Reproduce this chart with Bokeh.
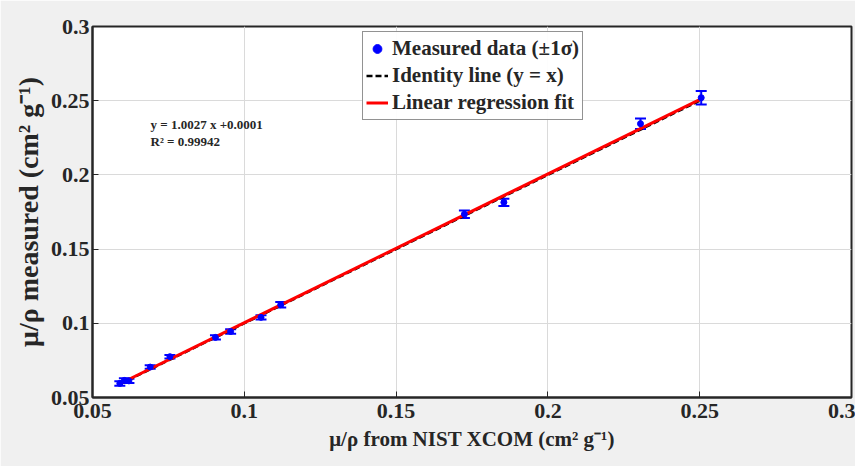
from bokeh.plotting import figure
from bokeh.models import ColumnDataSource, Whisker, TeeHead, Label, Range1d, Legend, LegendItem, FixedTicker
from bokeh.embed import file_html
from bokeh.resources import INLINE

nist = [0.059, 0.0605, 0.062, 0.069, 0.0755, 0.0905, 0.0955, 0.1055, 0.112, 0.1725, 0.1855, 0.2305, 0.2505]
measured = [0.0595, 0.0615, 0.0612, 0.0705, 0.0775, 0.0905, 0.0945, 0.104, 0.1125, 0.1735, 0.1815, 0.2345, 0.252]
sigma = [0.0015, 0.0015, 0.0015, 0.0012, 0.0012, 0.0015, 0.0015, 0.0015, 0.0018, 0.0025, 0.0025, 0.0035, 0.0045]
slope = 1.0027
intercept = 0.0001
r2 = 0.99942
ticks = [0.05, 0.1, 0.15, 0.2, 0.25, 0.3]

FONT = "Liberation Serif"

p = figure(width=855, height=466, output_backend="svg", toolbar_location=None,
           x_range=Range1d(0.05, 0.3), y_range=Range1d(0.05, 0.3),
           min_border_left=92, min_border_right=4, min_border_top=26, min_border_bottom=69)
p.border_fill_color = "#f0f0f0"
p.background_fill_color = "white"
p.outline_line_color = "#262626"
p.outline_line_width = 2

for ax in (p.xaxis[0], p.yaxis[0]):
    ax.ticker = FixedTicker(ticks=ticks)
    ax.major_label_text_font = FONT
    ax.major_label_text_font_style = "bold"
    ax.major_label_text_font_size = "22px"
    ax.major_label_text_color = "#262626"
    ax.axis_label_text_font = FONT
    ax.axis_label_text_font_style = "bold"
    ax.axis_label_text_color = "#262626"
    ax.axis_line_color = "#262626"
    ax.axis_line_width = 2
    ax.major_tick_in = 6
    ax.major_tick_out = 0
    ax.major_tick_line_color = "#262626"
    ax.minor_tick_line_color = None

p.xaxis.axis_label = "μ/ρ from NIST XCOM (cm² g⁻¹)"
p.yaxis.axis_label = "μ/ρ measured (cm² g⁻¹)"
p.xaxis.axis_label_text_font_size = "21px"
p.yaxis.axis_label_text_font_size = "28px"
p.xaxis.major_label_standoff = 6
p.yaxis.major_label_standoff = 3
p.xaxis.axis_label_standoff = 6
p.yaxis.axis_label_standoff = 4

p.xgrid.grid_line_color = "#dadada"
p.ygrid.grid_line_color = "#dadada"
p.xgrid.ticker = FixedTicker(ticks=ticks)
p.ygrid.ticker = FixedTicker(ticks=ticks)

lo = [m - s for m, s in zip(measured, sigma)]
hi = [m + s for m, s in zip(measured, sigma)]
src = ColumnDataSource(dict(x=nist, y=measured, lo=lo, hi=hi))

xmin, xmax = min(nist), max(nist)
ident = p.line([xmin, xmax], [xmin, xmax], line_color="black", line_width=2.5, line_dash="6 3")
fit = p.line([xmin, xmax], [slope * xmin + intercept, slope * xmax + intercept],
             line_color="#ff0000", line_width=3)

w = Whisker(source=src, base="x", lower="lo", upper="hi", line_color="blue", line_width=2,
            upper_head=TeeHead(size=11, line_color="blue", line_width=2),
            lower_head=TeeHead(size=11, line_color="blue", line_width=2))
p.add_layout(w)
pts = p.scatter("x", "y", source=src, size=6, color="blue")

legend = Legend(items=[LegendItem(label="Measured data (±1σ)", renderers=[pts]),
                       LegendItem(label="Identity line (y = x)", renderers=[ident]),
                       LegendItem(label="Linear regression fit", renderers=[fit])],
                location=(270, 277))
legend.label_text_font = FONT
legend.label_text_font_style = "bold"
legend.label_text_font_size = "21px"
legend.label_text_color = "#262626"
legend.border_line_color = "#262626"
legend.border_line_width = 1.5
legend.glyph_width = 22
legend.label_standoff = 4
legend.spacing = 0
legend.padding = 3
legend.margin = 0
legend.label_height = 27
legend.glyph_height = 27
p.add_layout(legend)

p.add_layout(Label(x=0.0691, y=0.2338, text=f"y = {slope:.4f} x +{intercept:.4f}",
                   text_font=FONT, text_font_style="bold", text_font_size="13px",
                   text_baseline="middle", text_color="#262626"))
p.add_layout(Label(x=0.0691, y=0.2223, text=f"R² = {r2:.5f}",
                   text_font=FONT, text_font_style="bold", text_font_size="13px",
                   text_baseline="middle", text_color="#262626"))

open("out.html", "w").write(file_html(p, INLINE))
